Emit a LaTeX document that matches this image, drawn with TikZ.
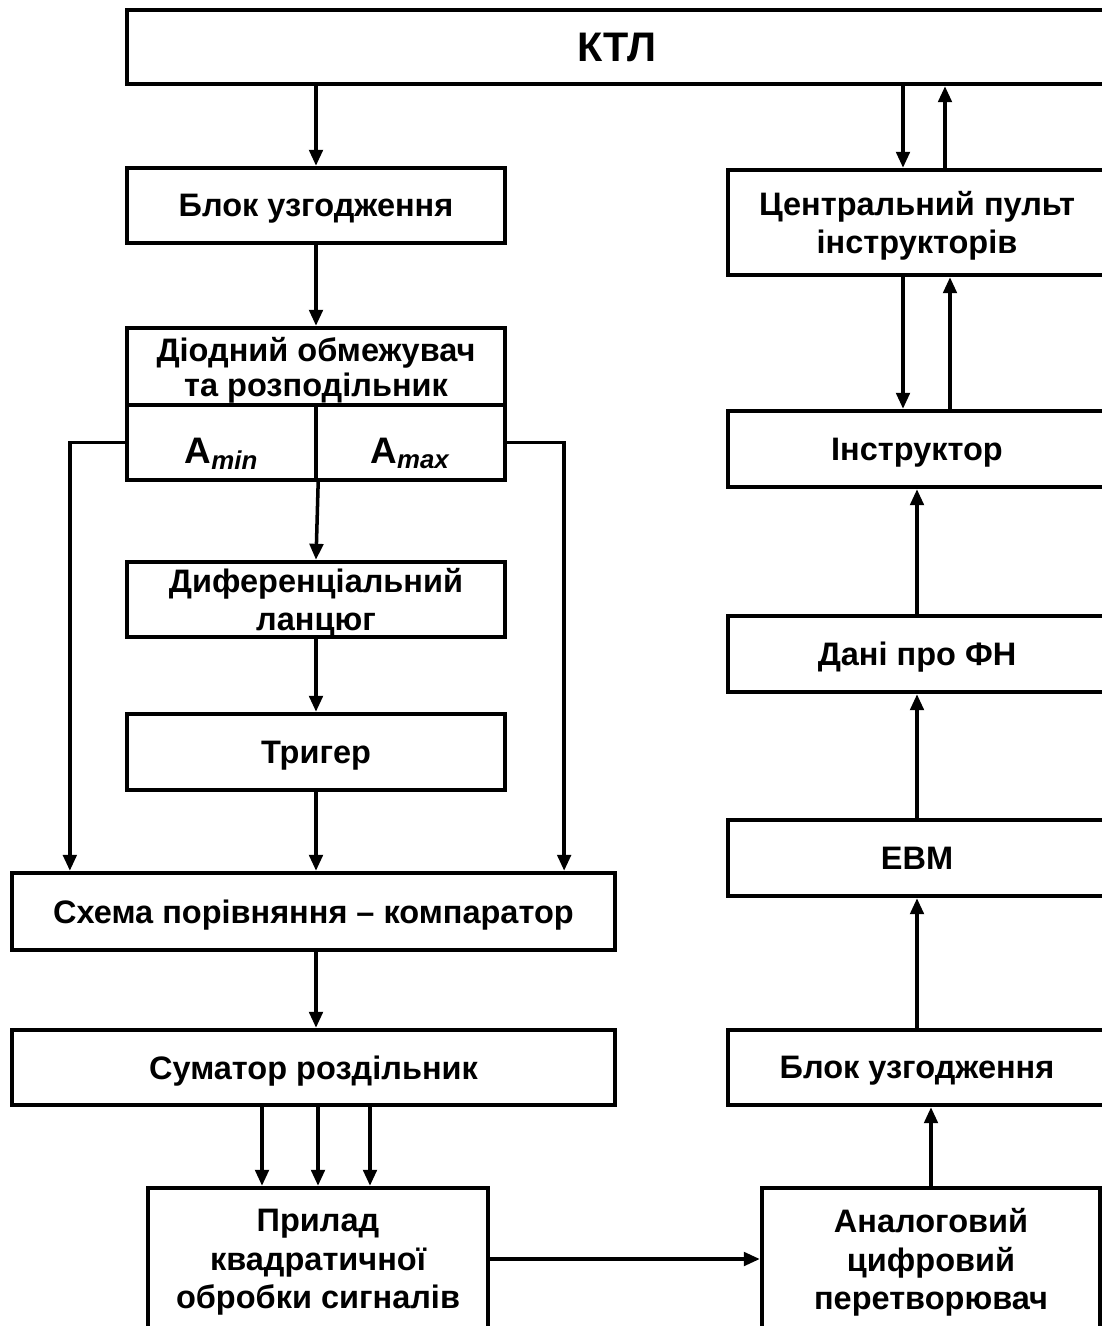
\documentclass[tikz,border=0pt]{standalone}
\usepackage{fontspec}
\setmainfont{Liberation Sans}
\usetikzlibrary{arrows.meta}
\begin{document}
\begin{tikzpicture}[x=0.02cm, y=-0.02cm,
  every node/.style={font=\fontsize{18.5}{22}\selectfont\bfseries, align=center, text depth=0pt},
  blk/.style={draw, line width=2.5pt, inner sep=0pt},
  arr/.style={line width=2pt, -{Triangle[length=0.32cm, width=0.27cm]}}]
\useasboundingbox (0,0) rectangle (1102,1326);
\clip (0,0) rectangle (1102,1326);
\node[blk, minimum width=19.6cm, minimum height=1.48cm, font=\fontsize{23.5}{27}\selectfont\bfseries] (ktl) at (617,47) {КТЛ};
% left column
\node[blk, minimum width=7.56cm, minimum height=1.5cm] (uzg) at (316,205.5) {Блок узгодження};
\node[blk, minimum width=7.56cm, minimum height=1.54cm, font=\fontsize{18.5}{20}\selectfont\bfseries] (diod) at (316,366.5) {Діодний обмежувач\\та розподільник};
\node[blk, minimum width=3.78cm, minimum height=1.5cm, font=\fontsize{21}{24}\selectfont\bfseries] (amin) at (221.5,442.5) {\raisebox{-0.42cm}[0pt][0pt]{A\textsubscript{\textit{min}}}};
\node[blk, minimum width=3.78cm, minimum height=1.5cm, font=\fontsize{21}{24}\selectfont\bfseries] (amax) at (410.5,442.5) {\raisebox{-0.42cm}[0pt][0pt]{A\textsubscript{\textit{max}}}};
\node[blk, minimum width=7.56cm, minimum height=1.5cm] (diff) at (316,599.5) {Диференціальний\\ланцюг};
\node[blk, minimum width=7.56cm, minimum height=1.52cm] (tryg) at (316,752) {Тригер};
\node[blk, minimum width=12.06cm, minimum height=1.54cm] (schema) at (313.5,911.5) {Схема порівняння -- компаратор};
\node[blk, minimum width=12.06cm, minimum height=1.5cm] (sum) at (313.5,1067.5) {Суматор роздільник};
\node[blk, minimum width=6.8cm, minimum height=2.84cm] (pryl) at (318,1259) {Прилад\\квадратичної\\обробки сигналів};
% right column
\node[blk, minimum width=7.56cm, minimum height=2.1cm] (central) at (917,222.5) {Центральний пульт\\інструкторів};
\node[blk, minimum width=7.56cm, minimum height=1.52cm] (instr) at (917,449) {Інструктор};
\node[blk, minimum width=7.56cm, minimum height=1.52cm] (dani) at (917,654) {Дані про ФН};
\node[blk, minimum width=7.56cm, minimum height=1.52cm] (evm) at (917,858) {ЕВМ};
\node[blk, minimum width=7.56cm, minimum height=1.5cm] (uzg2) at (917,1067.5) {Блок узгодження};
\node[blk, minimum width=6.76cm, minimum height=2.84cm] (adc) at (931,1259) {Аналоговий\\цифровий\\перетворювач};
% left arrows
\draw[arr] (uzg.north |- ktl.south) -- (uzg.north);
\draw[arr] (uzg) -- (diod);
\draw[arr] (amin.south east) -- (diff.north);
\draw[arr] (diff) -- (tryg);
\draw[arr] (tryg.south) -- (tryg.south |- schema.north);
\draw[arr] (amin.west) -| ([xshift=1.2cm]schema.north west);
\draw[arr] (amax.east) -| ([xshift=-1.06cm]schema.north east);
\draw[arr] (tryg.south |- schema.south) -- (tryg.south |- sum.north);
\foreach \dx in {-1.12,0,1.04}
  \draw[arr] ([xshift=\dx cm]pryl.north |- sum.south) -- ([xshift=\dx cm]pryl.north);
\draw[arr] (pryl.east) -- (adc.west);
% right arrows
\draw[arr] (adc.north) -- (adc.north |- uzg2.south);
\draw[arr] (uzg2) -- (evm);
\draw[arr] (evm) -- (dani);
\draw[arr] (dani) -- (instr);
\draw[arr] ([xshift=-0.28cm]central.south) -- ([xshift=-0.28cm]instr.north);
\draw[arr] ([xshift=0.66cm]instr.north) -- ([xshift=0.66cm]central.south);
\draw[arr] ([xshift=-0.28cm]central.north |- ktl.south) -- ([xshift=-0.28cm]central.north);
\draw[arr] ([xshift=0.56cm]central.north) -- ([xshift=0.56cm]central.north |- ktl.south);
\end{tikzpicture}
\end{document}
